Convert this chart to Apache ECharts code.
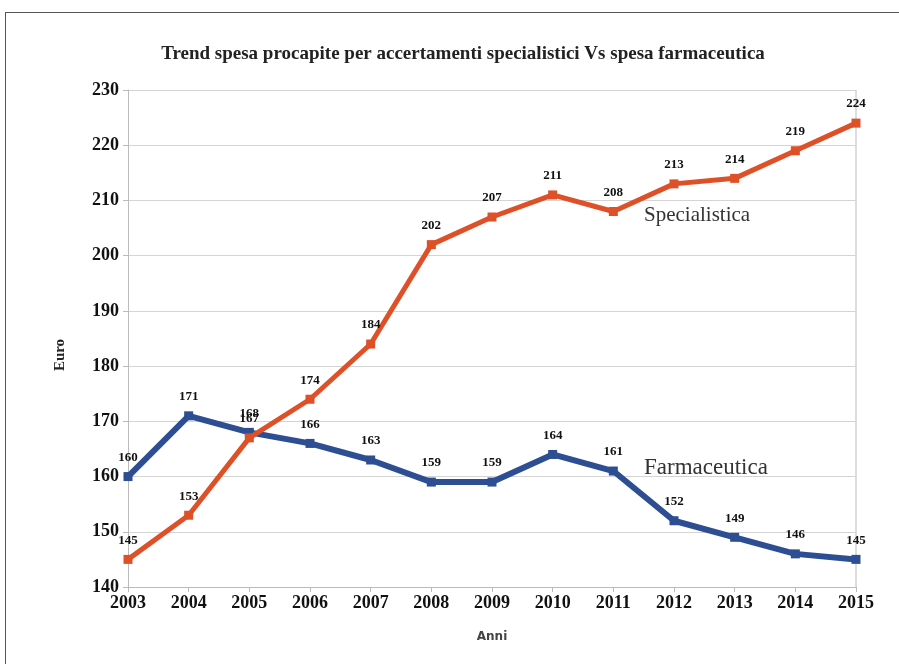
<!DOCTYPE html>
<html>
<head>
<meta charset="utf-8">
<script src="https://cdn.jsdelivr.net/npm/echarts@6/dist/echarts.min.js"></script>
<style>
    html, body { margin: 0; padding: 0; background: #fff; }
    #frame {
        position: absolute; left: 5px; top: 12px; width: 900px; height: 660px;
        border: 1px solid #555; box-sizing: border-box;
    }
    #chart { width: 899px; height: 664px; position: absolute; left: 0; top: 0; }
</style>
</head>
<body>
<div id="frame"></div>
<div id="chart"></div>
<script>
    // dati
    var anni = ['2003', '2004', '2005', '2006', '2007', '2008', '2009', '2010', '2011', '2012', '2013', '2014', '2015'];
    var specialistica = [145, 153, 167, 174, 184, 202, 207, 211, 208, 213, 214, 219, 224];
    var farmaceutica = [160, 171, 168, 166, 163, 159, 159, 164, 161, 152, 149, 146, 145];

    var serif = '"Liberation Serif", "DejaVu Serif", serif';
    var myChart = echarts.init(document.getElementById('chart'));
    var option = {
        backgroundColor: 'transparent',
        animation: false,
        title: {
            text: 'Trend spesa procapite per accertamenti specialistici Vs spesa farmaceutica',
            left: 458,
            textAlign: 'center',
            top: 40,
            textStyle: { fontFamily: serif, fontSize: 19, fontWeight: 'bold', color: '#222' }
        },
        grid: { left: 128, right: 43, top: 90, bottom: 77 },
        xAxis: {
            type: 'category',
            data: anni,
            boundaryGap: false,
            name: 'Anni',
            nameLocation: 'middle',
            nameGap: 44,
            nameTextStyle: { fontFamily: '"DejaVu Sans", sans-serif', fontSize: 12, color: '#444', fontWeight: 'bold' },
            axisLine: { lineStyle: { color: '#bbb' } },
            axisTick: { show: true, lineStyle: { color: '#bbb' } },
            axisLabel: { fontFamily: serif, fontSize: 18, color: '#111', fontWeight: 'bold', margin: 7 },
            splitLine: { show: false }
        },
        yAxis: {
            type: 'value',
            min: 140,
            max: 230,
            interval: 10,
            axisLine: { show: true, lineStyle: { color: '#bbb' } },
            axisTick: { show: true, lineStyle: { color: '#bbb' } },
            axisLabel: { fontFamily: serif, fontSize: 18, color: '#111', fontWeight: 'bold', margin: 9 },
            splitLine: { lineStyle: { color: '#d4d4d4' } }
        },
        series: [{
            name: 'Specialistica',
            type: 'line',
            data: specialistica,
            color: '#DE5128',
            lineStyle: { width: 5 },
            symbol: 'rect',
            symbolSize: 9,
            label: { show: true, position: 'top', distance: 8, fontFamily: serif, fontSize: 13, fontWeight: 'bold', color: '#111' },
            z: 3
        }, {
            name: 'Farmaceutica',
            type: 'line',
            data: farmaceutica,
            color: '#2D4E92',
            lineStyle: { width: 6 },
            symbol: 'rect',
            symbolSize: 9,
            label: { show: true, position: 'top', distance: 8, fontFamily: serif, fontSize: 13, fontWeight: 'bold', color: '#111' },
            z: 2
        }],
        graphic: [{
            type: 'text', left: 644, top: 205,
            style: { text: 'Specialistica', font: '21px ' + serif, fill: '#333' }
        }, {
            type: 'text', left: 644, top: 456,
            style: { text: 'Farmaceutica', font: '23px ' + serif, fill: '#333' }
        }, {
            type: 'text', x: 60, y: 355, rotation: Math.PI / 2,
            style: { text: 'Euro', font: 'bold 15px ' + serif, fill: '#222', align: 'center', verticalAlign: 'middle' }
        }, {
            type: 'line', shape: { x1: 856, y1: 90, x2: 856, y2: 587 },
            style: { stroke: '#bbb', lineWidth: 1 }
        }]
    };
    myChart.setOption(option);
</script>
</body>
</html>
